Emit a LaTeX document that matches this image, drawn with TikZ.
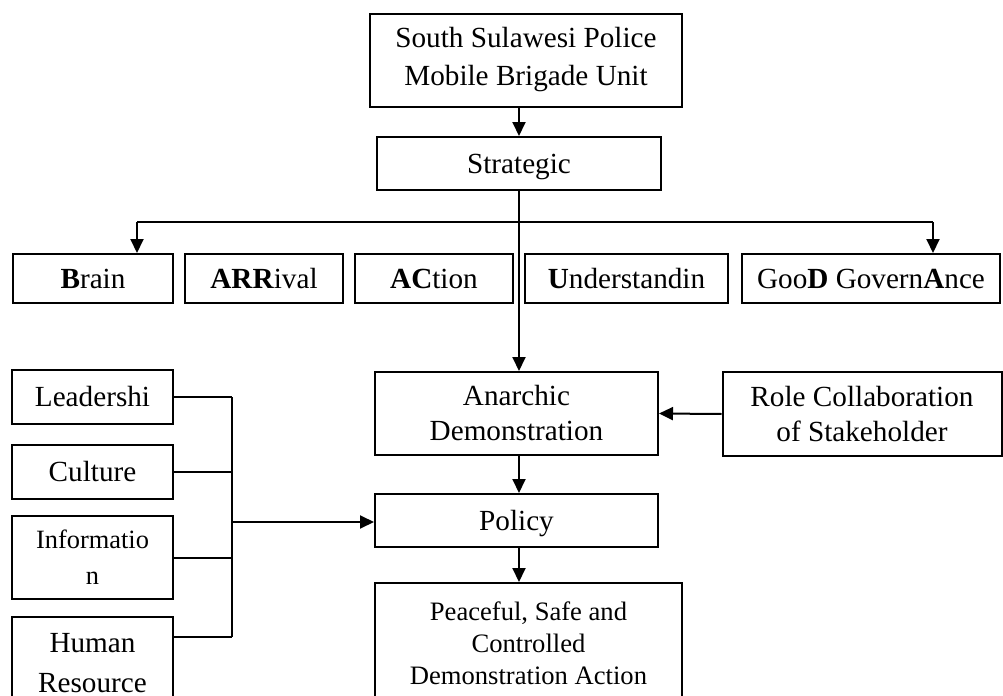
\documentclass[tikz,border=0pt]{standalone}
\usepackage{fontspec}
\setmainfont{Liberation Serif}
\usetikzlibrary{arrows.meta}
\tikzset{
  box/.style={draw, line width=1pt, inner sep=0pt, align=center,
    font=\fontsize{14.6}{17.5}\selectfont},
  one/.style={text height=0.95em, text depth=0pt},
  arr/.style={line width=1pt, -{Triangle[length=7pt,width=6.5pt]}},
  lin/.style={line width=1pt}
}
\begin{document}
\begin{tikzpicture}[x=0.5pt, y=-0.5pt]
        \useasboundingbox (0,0) rectangle (1003,696);
        \clip (0,0) rectangle (1003,696);
        % Top of the chart
        \node[box, minimum width=156pt, minimum height=46.5pt,
          font=\fontsize{14.6}{19}\selectfont] (unit) at (526, 60)
          {South Sulawesi Police\\Mobile Brigade Unit};
        \node[box, one, minimum width=142pt, minimum height=26.5pt] (strat) at (519, 163.5) {Strategic};
        \draw[arr] (unit.south -| strat.north) -- (strat.north);
        
        % BARACUDA row
        \node[box, one, minimum width=80pt, minimum height=24.5pt] (brain) at (93, 278.5) {\textbf{B}rain};
        \node[box, one, minimum width=79pt, minimum height=24.5pt] (arrival) at (264, 278.5) {\textbf{ARR}ival};
        \node[box, one, minimum width=79pt, minimum height=24.5pt] (action) at (434, 278.5) {\textbf{AC}tion};
        \node[box, one, minimum width=101.5pt, minimum height=24.5pt] (under) at (626.5, 278.5) {\textbf{U}nderstandin};
        \node[box, one, minimum width=129pt, minimum height=24.5pt] (good) at (871, 278.5) {Goo\textbf{D} Govern\textbf{A}nce};
        \coordinate (bar) at (137, 222);
        \coordinate (barr) at (933, 222);
        \draw[lin] (bar) -- (barr);
        \draw[arr] (bar) -- (bar |- brain.north);
        \draw[arr] (barr) -- (barr |- good.north);
        
        % Middle column
        \node[box, minimum width=141.5pt, minimum height=41.5pt] (anar) at (516.5, 413.5) {Anarchic\\Demonstration};
        \node[box, minimum width=139.5pt, minimum height=42pt] (role) at (862, 414) {Role Collaboration\\of Stakeholder};
        \node[box, one, minimum width=141.5pt, minimum height=26.5pt] (policy) at (516.5, 520.5) {Policy};
        \node[box, minimum width=153.5pt, minimum height=60pt,
          font=\fontsize{13.3}{16}\selectfont] (peace) at (528.5, 643)
          {Peaceful, Safe and\\Controlled\\Demonstration Action};
        \draw[arr] (strat.south) -- (strat.south |- anar.north);
        \draw[arr] (role.west) -- (anar.east);
        \draw[arr] (anar.south -| strat.south) -- (strat.south |- policy.north);
        \draw[arr] (policy.south -| strat.south) -- (strat.south |- peace.north);
        
        % Factors on the left
        \node[box, one, minimum width=80.5pt, minimum height=27pt] (leader) at (92.5, 397) {Leadershi};
        \node[box, one, minimum width=80.5pt, minimum height=27pt] (culture) at (92.5, 472) {Culture};
        \node[box, minimum width=80.5pt, minimum height=41.5pt,
          font=\fontsize{13.2}{18}\selectfont] (info) at (92.5, 557.5) {Informatio\\n};
        \node[box, minimum width=80.5pt, minimum height=46pt,
          font=\fontsize{14.6}{20}\selectfont] (human) at (92.5, 663) {Human\\Resource};
        \coordinate (jn) at (232, 522);
        \coordinate (hr) at (173, 637);
        \draw[lin] (leader.east) -- (leader.east -| jn);
        \draw[lin] (culture.east) -- (culture.east -| jn);
        \draw[lin] (info.east) -- (info.east -| jn);
        \draw[lin] (hr) -- (hr -| jn);
        \draw[lin] (leader.east -| jn) -- (hr -| jn);
        \draw[arr] (jn) -- (jn -| policy.west);
\end{tikzpicture}
\end{document}
